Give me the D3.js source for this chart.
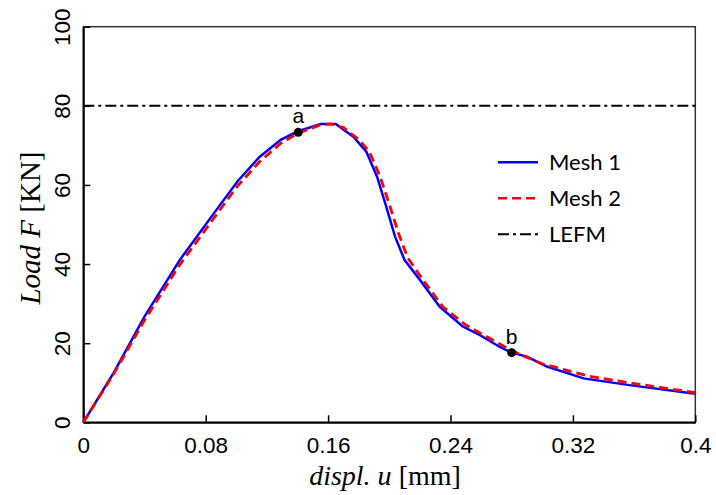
<!DOCTYPE html>
<html>
<head>
<meta charset="utf-8">
<script src="https://cdn.jsdelivr.net/npm/d3@7"></script>
<style>
	body { margin: 0; background: #fff; }
	svg { display: block; }
</style>
</head>
<body>
<script>
// displacement u [mm] and load F [KN]
let mesh1U = [0, 0.02, 0.04, 0.063, 0.087, 0.101, 0.115, 0.129, 0.14, 0.155, 0.165, 0.1765, 0.185, 0.192, 0.198, 0.2037, 0.21, 0.22, 0.233, 0.248, 0.259, 0.272, 0.28, 0.29, 0.303, 0.327, 0.357, 0.4];
let mesh1F = [0, 12.6, 26.7, 41.0, 53.7, 61.0, 67.0, 71.4, 73.5, 75.4, 75.4, 72.2, 68.4, 62.1, 54.5, 47.0, 41.0, 36.0, 29.2, 24.2, 22.1, 19.1, 17.6, 16.6, 14.1, 11.1, 9.4, 7.2];

let mesh2U = [0, 0.02, 0.04, 0.063, 0.087, 0.101, 0.115, 0.129, 0.14, 0.155, 0.162, 0.17, 0.18, 0.187, 0.194, 0.2005, 0.206, 0.212, 0.222, 0.235, 0.25, 0.262, 0.275, 0.285, 0.3, 0.33, 0.36, 0.4];
let mesh2F = [0, 12.3, 25.8, 39.8, 52.5, 59.8, 65.8, 70.5, 73.0, 75.2, 75.4, 74.5, 71.5, 68.4, 62.1, 54.5, 47.8, 41.6, 36.0, 29.2, 24.6, 22.0, 19.2, 17.2, 14.8, 11.7, 9.8, 7.5];

let lefmLoad = 80;

let markNames = ["a", "b"];
let markU = [0.1405, 0.28];
let markF = [73.3, 17.6];

let xTicks = [0, 0.08, 0.16, 0.24, 0.32, 0.4];
let yTicks = [0, 20, 40, 60, 80, 100];

let legendNames = ["Mesh 1", "Mesh 2", "LEFM"];

let width = 716;
let height = 495;

let xScale = d3.scaleLinear().domain([0, 0.4]).range([83.3, 695.3]);
let yScale = d3.scaleLinear().domain([0, 100]).range([422.3, 26.7]);

let svg = d3.select("body").append("svg").attr("width", width).attr("height", height);

// frame
svg.append("rect")
	.attr("x", xScale(0)).attr("y", yScale(100))
	.attr("width", xScale(0.4) - xScale(0))
	.attr("height", yScale(0) - yScale(100))
	.attr("fill", "none").attr("stroke", "#333").attr("stroke-width", 1.5);

let xAxis = d3.axisBottom(xScale)
	.tickValues(xTicks)
	.tickFormat(d => d3.format("")(+d.toFixed(2)))
	.tickSizeInner(-7).tickSizeOuter(0).tickPadding(15);

let yAxis = d3.axisLeft(yScale)
	.tickValues(yTicks)
	.tickSizeInner(-7).tickSizeOuter(0);

let gx = svg.append("g").attr("transform", `translate(0,${yScale(0)})`).call(xAxis);
let gy = svg.append("g").attr("transform", `translate(${xScale(0)},0)`).call(yAxis);

[gx, gy].forEach(g => {
	g.select(".domain").attr("stroke", "#000").attr("stroke-width", 2);
	g.selectAll(".tick line").attr("stroke", "#000").attr("stroke-width", 1.5);
	g.selectAll("text").attr("font-family", "'Liberation Sans', Arial, sans-serif").attr("font-size", 22.5).attr("fill", "#000");
});

gy.selectAll("text")
	.attr("transform", "rotate(-90)")
	.attr("x", 0).attr("y", -13).attr("dy", 0)
	.attr("text-anchor", "middle");

// axis titles
let xTitle = svg.append("text")
	.attr("x", 385).attr("y", 485)
	.attr("text-anchor", "middle")
	.attr("font-family", "'Liberation Serif', 'Times New Roman', serif")
	.attr("font-size", 28);
xTitle.append("tspan").attr("font-style", "italic").text("displ. u");
xTitle.append("tspan").text(" [mm]");

let yTitle = svg.append("text")
	.attr("transform", "translate(40,228) rotate(-90)")
	.attr("text-anchor", "middle")
	.attr("font-family", "'Liberation Serif', 'Times New Roman', serif")
	.attr("font-size", 29);
yTitle.append("tspan").attr("font-style", "italic").text("Load F");
yTitle.append("tspan").text(" [KN]");

// LEFM line
let lefmDash = "11,4,3,4";
svg.append("line")
	.attr("x1", xScale(0)).attr("x2", xScale(0.4))
	.attr("y1", yScale(lefmLoad)).attr("y2", yScale(lefmLoad))
	.attr("stroke", "#000").attr("stroke-width", 2)
	.attr("stroke-dasharray", lefmDash);

let line = d3.line().x(d => xScale(d[0])).y(d => yScale(d[1]));

svg.append("path")
	.datum(d3.zip(mesh1U, mesh1F))
	.attr("d", line)
	.attr("fill", "none").attr("stroke", "#0000ff").attr("stroke-width", 2.5);

svg.append("path")
	.datum(d3.zip(mesh2U, mesh2F))
	.attr("d", line)
	.attr("fill", "none").attr("stroke", "#ff0000").attr("stroke-width", 2.8)
	.attr("stroke-dasharray", "9,5");

// marked points
let marks = d3.zip(markNames, markU, markF);
svg.selectAll(".mark").data(marks).enter()
	.append("circle")
	.attr("cx", d => xScale(d[1]))
	.attr("cy", d => yScale(d[2]))
	.attr("r", 4.5).attr("fill", "#000");

svg.selectAll(".markLabel").data(marks).enter()
	.append("text")
	.attr("x", d => xScale(d[1]))
	.attr("y", d => yScale(d[2]) - 9)
	.attr("text-anchor", "middle")
	.attr("font-family", "'Liberation Sans', Arial, sans-serif")
	.attr("font-size", 21)
	.text(d => d[0]);

// legend
let legendColors = ["#0000ff", "#ff0000", "#000"];
let legendDash = [null, "9,5", lefmDash];
let legend = svg.append("g");
legendNames.forEach((name, i) => {
	let y = 162.3 + i * 36;
	legend.append("line")
		.attr("x1", 498).attr("x2", 538).attr("y1", y).attr("y2", y)
		.attr("stroke", legendColors[i]).attr("stroke-width", i === 2 ? 2 : 2.5)
		.attr("stroke-dasharray", legendDash[i]);
	legend.append("text")
		.attr("x", 549).attr("y", y + 8)
		.attr("font-family", "Lato, 'Liberation Sans', sans-serif")
		.attr("font-size", 22)
		.text(name);
});
</script>
</body>
</html>
